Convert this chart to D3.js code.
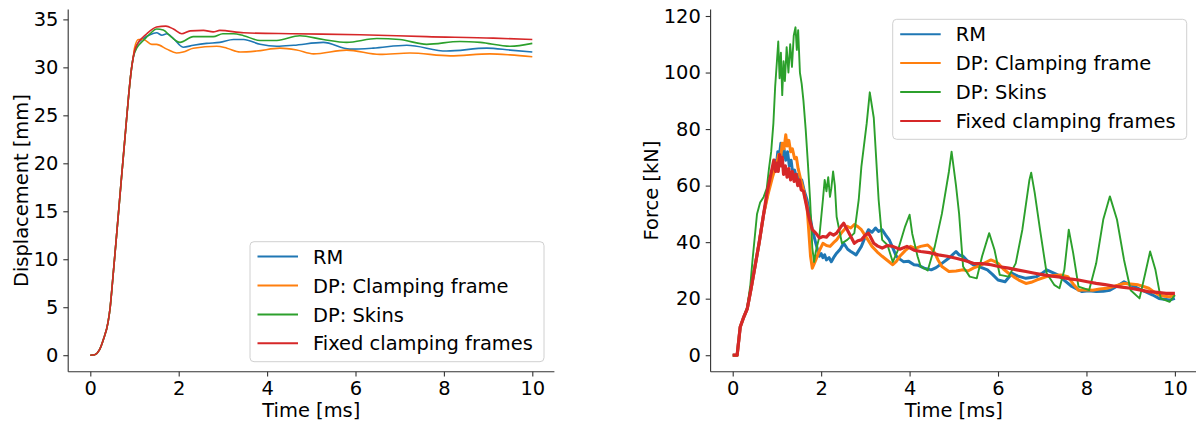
<!DOCTYPE html>
<html><head><meta charset="utf-8">
<script src="https://cdn.jsdelivr.net/npm/d3@7"></script>
<style>html,body{margin:0;padding:0;background:#fff;}svg{display:block;font-family:"DejaVu Sans",sans-serif;}</style>
</head><body>
<svg id="c" width="1196" height="428"></svg>
<script>
const seriesNames = ["RM", "DP: Clamping frame", "DP: Skins", "Fixed clamping frames"];
const colors = ["#1f77b4", "#ff7f0e", "#2ca02c", "#d62728"];
const xTicks = [0, 2, 4, 6, 8, 10];
const dispTicks = [0, 5, 10, 15, 20, 25, 30, 35];
const forceTicks = [0, 20, 40, 60, 80, 100, 120];

// Displacement [mm] vs time [ms]
const riseDisp = [[0,0],[0.1,0.05],[0.2,0.5],[0.3,1.7],[0.4,3.4],[0.45,5.0],[0.5,7.5],[0.6,12.8],[0.7,18.2],[0.8,23.5],[0.87,27.2],[0.93,29.8],[0.97,31.0]];
const dispRM = [[1.0,31.6],[1.05,32.3],[1.2,33.0],[1.35,33.4],[1.5,33.6],[1.62,33.35],[1.73,33.5],[1.88,33.0],[2.1,32.1],[2.33,32.3],[2.63,32.5],[2.93,32.6],[3.24,32.9],[3.47,32.9],[3.84,32.4],[4.22,32.2],[4.6,32.3],[5.27,32.6],[5.87,31.9],[6.4,32.0],[7.16,32.3],[8.06,31.7],[8.97,32.0],[9.5,31.8],[10,31.6]];
const dispDPClamp = [[1.0,32.0],[1.09,32.9],[1.2,32.9],[1.39,32.4],[1.5,32.4],[1.73,31.9],[1.95,31.5],[2.1,31.6],[2.33,32.0],[2.86,32.2],[3.09,32.0],[3.39,31.6],[3.76,31.7],[4.29,32.0],[4.67,31.8],[5.05,31.4],[5.8,31.8],[6.55,31.35],[7.23,31.5],[8.14,31.2],[9.04,31.4],[9.5,31.3],[10,31.1]];
const dispDPSkins = [[1.0,31.5],[1.05,32.0],[1.2,32.8],[1.35,33.5],[1.5,34.0],[1.65,33.9],[1.8,33.3],[2.03,32.6],[2.33,33.2],[2.78,33.2],[3.0,33.5],[3.24,33.5],[3.47,33.3],[3.84,32.8],[4.22,32.8],[4.74,33.3],[5.27,32.9],[5.8,32.6],[6.48,33.0],[7.0,32.9],[7.61,32.4],[8.36,32.7],[8.82,32.6],[9.5,32.2],[10,32.5]];
const dispFixed = [[1.0,31.7],[1.05,32.3],[1.28,33.5],[1.5,34.2],[1.71,34.3],[1.88,34.0],[2.07,33.5],[2.26,33.8],[2.56,33.85],[2.78,33.7],[2.93,33.85],[3.47,33.6],[4.6,33.5],[6.1,33.4],[7.61,33.2],[9.12,33.05],[10,32.9]];

// Force [kN] vs time [ms]
const forceRM = [[0,0],[0.1,0],[0.17,10],[0.25,13.5],[0.33,16.5],[0.42,24],[0.5,31],[0.6,40],[0.7,50],[0.8,58],[0.9,65],[0.95,69],[0.98,66],[1.02,72],[1.05,70],[1.09,75],[1.12,70],[1.16,73],[1.2,69],[1.24,72],[1.28,67],[1.32,69],[1.36,64],[1.4,65.5],[1.44,62.5],[1.48,64],[1.52,60.5],[1.56,62],[1.62,58],[1.68,55],[1.74,50],[1.8,44.4],[1.88,39.6],[1.96,35],[2.0,36],[2.04,34.5],[2.08,35.5],[2.12,33.7],[2.18,34.5],[2.23,33.1],[2.3,35],[2.35,36.1],[2.43,37.5],[2.51,39.6],[2.6,37.5],[2.67,36.7],[2.79,35.5],[2.91,38.5],[3.0,42],[3.07,44.4],[3.15,43.5],[3.23,45],[3.3,43.8],[3.38,44.4],[3.46,42.5],[3.54,40.8],[3.62,38],[3.7,35],[3.78,34],[3.86,33.1],[3.98,33.2],[4.1,32],[4.2,31.8],[4.33,30.8],[4.49,30.2],[4.6,31],[4.73,32.5],[4.9,34.5],[5.05,36.7],[5.12,35.5],[5.21,35],[5.3,33.5],[5.44,32],[5.6,31.2],[5.76,30.2],[5.88,28.5],[6.0,26.6],[6.16,26],[6.24,27.5],[6.32,29],[6.45,28],[6.63,27.2],[6.75,27.5],[6.87,27.8],[7.0,29],[7.1,30.2],[7.2,29.5],[7.35,28.4],[7.5,26.5],[7.67,24.3],[7.9,22.5],[8.05,22.8],[8.22,22.5],[8.38,22.6],[8.53,23],[8.7,24.5],[8.85,26],[8.95,25.2],[9.09,24.3],[9.2,23.4],[9.33,22.5],[9.5,21.3],[9.64,20.1],[9.76,19.8],[9.88,19.5],[10,20.1]];
const forceDPClamp = [[0,0],[0.1,0],[0.17,10],[0.25,13.5],[0.33,16.5],[0.42,24],[0.5,31],[0.6,40],[0.7,50],[0.8,57],[0.9,63],[0.96,66],[1.0,68],[1.04,71],[1.08,69],[1.12,75],[1.16,73],[1.2,78],[1.23,74],[1.27,76],[1.31,72],[1.35,73],[1.4,69.5],[1.44,70],[1.48,66],[1.54,62],[1.6,58.5],[1.68,52.7],[1.72,44],[1.76,35],[1.8,30.8],[1.88,33.7],[1.96,37],[2.04,39.6],[2.12,38.8],[2.2,38.5],[2.28,39.8],[2.35,40.8],[2.47,43.5],[2.59,45.6],[2.67,45],[2.75,46.2],[2.83,45.5],[2.91,44.4],[3.03,41.5],[3.15,38.5],[3.27,36.5],[3.38,35],[3.5,33.5],[3.62,32],[3.7,33.2],[3.78,35],[3.9,37],[4.02,38.5],[4.13,37.8],[4.25,38.5],[4.41,39],[4.49,37.8],[4.57,36.1],[4.65,33.5],[4.73,31.4],[4.89,29.6],[5.05,29.8],[5.21,30.2],[5.32,29.8],[5.44,30.8],[5.56,31.5],[5.68,32.5],[5.84,33.7],[5.92,33.2],[6.0,32.5],[6.12,30.5],[6.24,29],[6.35,27.8],[6.47,26.6],[6.63,25.4],[6.75,25.8],[6.87,26.6],[7.0,27.3],[7.1,27.8],[7.26,28.2],[7.42,28.4],[7.58,27.8],[7.7,25.2],[7.82,23],[7.98,23.2],[8.14,23],[8.3,23.4],[8.46,23.7],[8.65,24.5],[8.85,25.4],[9.0,25.2],[9.17,24.9],[9.29,24.3],[9.41,23.7],[9.52,22.5],[9.64,21.3],[9.76,20.9],[9.88,20.7],[10,21.3]];
const forceDPSkins = [[0,0],[0.1,0],[0.17,10],[0.25,13.5],[0.33,17],[0.4,25],[0.45,34],[0.5,42],[0.55,50],[0.62,54],[0.7,56],[0.77,59],[0.82,66],[0.87,72],[0.92,82],[0.96,95],[1.0,104],[1.03,111],[1.06,98],[1.09,107],[1.12,92],[1.15,104],[1.18,97],[1.22,109],[1.26,100],[1.3,110],[1.34,102],[1.38,113],[1.42,116],[1.45,108],[1.48,115],[1.52,100],[1.56,96],[1.6,90],[1.65,80],[1.7,68],[1.75,55],[1.8,38],[1.84,33],[1.88,36.7],[1.96,42],[2.04,55],[2.08,62],[2.12,58],[2.16,63],[2.2,56],[2.23,59],[2.27,65],[2.31,60],[2.35,49],[2.47,39.6],[2.59,40.8],[2.75,43.2],[2.85,55],[2.91,66.7],[3.03,82],[3.1,93],[3.19,84],[3.3,55],[3.38,40.8],[3.5,39],[3.62,33],[3.74,37.3],[3.9,45.6],[4.0,49.7],[4.06,43],[4.18,35],[4.25,31.4],[4.41,30],[4.57,38.5],[4.73,50],[4.89,65],[4.95,72],[5.05,60],[5.12,50],[5.21,31.4],[5.36,27.8],[5.52,27.2],[5.64,35],[5.8,43.2],[5.92,37.3],[6.04,28.4],[6.24,27.8],[6.4,32.5],[6.55,44.4],[6.71,62],[6.75,64.6],[6.83,57.4],[6.95,44.4],[7.1,29],[7.27,24.9],[7.39,23.7],[7.5,30.2],[7.6,44.4],[7.7,36.1],[7.82,24.3],[8.06,23],[8.22,32.5],[8.38,48],[8.53,56.2],[8.69,48],[8.85,33.7],[9.0,23],[9.2,20.1],[9.33,29],[9.44,36.7],[9.56,30.2],[9.68,20.1],[9.88,18.9],[10,21.3]];
const forceFixed = [[0,0],[0.1,0],[0.17,10],[0.25,13.5],[0.33,16.5],[0.42,24],[0.5,31],[0.6,40],[0.7,50],[0.77,57],[0.85,63],[0.93,69],[0.97,65],[1.0,68],[1.03,65],[1.06,71],[1.09,67],[1.12,70],[1.15,64],[1.19,67],[1.23,63],[1.27,66],[1.31,62],[1.35,65],[1.39,61.5],[1.43,64],[1.47,60],[1.51,62],[1.55,58.5],[1.6,58],[1.64,55],[1.72,49],[1.8,44.4],[1.88,43.2],[1.96,41.5],[2.04,42],[2.12,41.8],[2.2,43.2],[2.28,42.5],[2.35,43.2],[2.45,45.5],[2.51,46.7],[2.55,45.5],[2.59,44.4],[2.67,42],[2.75,39.6],[2.83,40.5],[2.91,40.8],[3.0,42.5],[3.07,43.2],[3.19,39.6],[3.28,38.6],[3.38,37.9],[3.5,38.8],[3.62,38.5],[3.78,37.5],[3.94,38.5],[4.1,37.2],[4.25,36.7],[4.45,36.3],[4.65,35.5],[4.85,35],[5.05,34.3],[5.25,33.5],[5.44,32.5],[5.64,32.4],[5.84,32],[6.04,31.3],[6.24,30.8],[6.43,30.2],[6.63,29.6],[6.83,29],[7.03,28.4],[7.22,28],[7.42,27.6],[7.62,27],[7.82,26.6],[8.02,26],[8.22,25.4],[8.42,25],[8.61,24.5],[8.8,24.1],[9.0,23.7],[9.2,23.1],[9.4,22.5],[9.6,22.2],[9.8,21.9],[10,21.9]];

const FS = 19.44;
const svg = d3.select("#c");

function panel(opts) {
  const g = svg.append("g");
  const x = d3.scaleLinear().domain([-0.5, 10.5]).range([opts.left, opts.right]);
  const y = d3.scaleLinear().domain(opts.ydom).range([371.7, 9.5]);
  const line = d3.line().x(d => x(d[0])).y(d => y(d[1])).curve(opts.curve);
  opts.series.forEach((s, i) => {
    g.append("path").attr("d", line(s)).attr("fill", "none")
      .attr("stroke", colors[i]).attr("stroke-width", opts.widths[i])
      .attr("stroke-linejoin", "round").attr("stroke-linecap", "butt");
  });
  const xa = g.append("g").attr("transform", `translate(0,371.7)`)
    .call(d3.axisBottom(x).tickValues(xTicks).tickSize(4.9).tickPadding(4.5).tickFormat(d3.format("d")));
  const ya = g.append("g").attr("transform", `translate(${opts.left},0)`)
    .call(d3.axisLeft(y).tickValues(opts.yticks).tickSize(4.9).tickPadding(4.9).tickFormat(d3.format("d")));
  [xa, ya].forEach(a => {
    a.select(".domain").attr("stroke", "#333").attr("stroke-width", 1.1);
    a.selectAll(".tick line").attr("stroke", "#333").attr("stroke-width", 1.1);
    a.selectAll(".tick text").attr("fill", "#000").style("font-size", FS + "px").style("font-family", "DejaVu Sans");
  });
  ya.select(".domain").attr("d", `M0,371.7V9.5`);
  xa.select(".domain").attr("d", `M${opts.left},0H${opts.right}`);
  g.append("text").attr("x", (opts.left + opts.right) / 2).attr("y", 417.3)
    .attr("text-anchor", "middle").style("font-size", FS + "px").text("Time [ms]");
  g.append("text").attr("transform", `translate(${opts.ylabX},${(371.7 + 9.5) / 2}) rotate(-90)`)
    .attr("text-anchor", "middle").style("font-size", FS + "px").text(opts.ylabel);
  const L = opts.legend;
  g.append("rect").attr("x", L.x).attr("y", L.y).attr("width", 294).attr("height", 120)
    .attr("rx", 4).attr("fill", "rgba(255,255,255,0.8)").attr("stroke", "#d0d0d0").attr("stroke-width", 1);
  seriesNames.forEach((n, i) => {
    const ly = L.y + 14.9 + i * 28.9;
    g.append("line").attr("x1", L.x + 7.5).attr("x2", L.x + 48).attr("y1", ly).attr("y2", ly)
      .attr("stroke", colors[i]).attr("stroke-width", 2);
    g.append("text").attr("x", L.x + 63).attr("y", ly + 7.1).style("font-size", FS + "px").text(n);
  });
}

panel({
  left: 68.2, right: 554.4, ydom: [-1.72, 36.03], yticks: dispTicks,
  series: [riseDisp.concat(dispRM), riseDisp.concat(dispDPClamp), riseDisp.concat(dispDPSkins), riseDisp.concat(dispFixed)],
  widths: [1.6, 1.6, 1.6, 1.6], curve: d3.curveMonotoneX,
  ylabel: "Displacement [mm]", ylabX: 27.5, legend: {x: 250, y: 241.7}
});
panel({
  left: 710.6, right: 1197, ydom: [-5.83, 122.3], yticks: forceTicks,
  series: [forceRM, forceDPClamp, forceDPSkins, forceFixed],
  widths: [3.0, 3.0, 1.9, 3.2], curve: d3.curveLinear,
  ylabel: "Force [kN]", ylabX: 657.5, legend: {x: 892.7, y: 19.3}
});
</script>
</body></html>
